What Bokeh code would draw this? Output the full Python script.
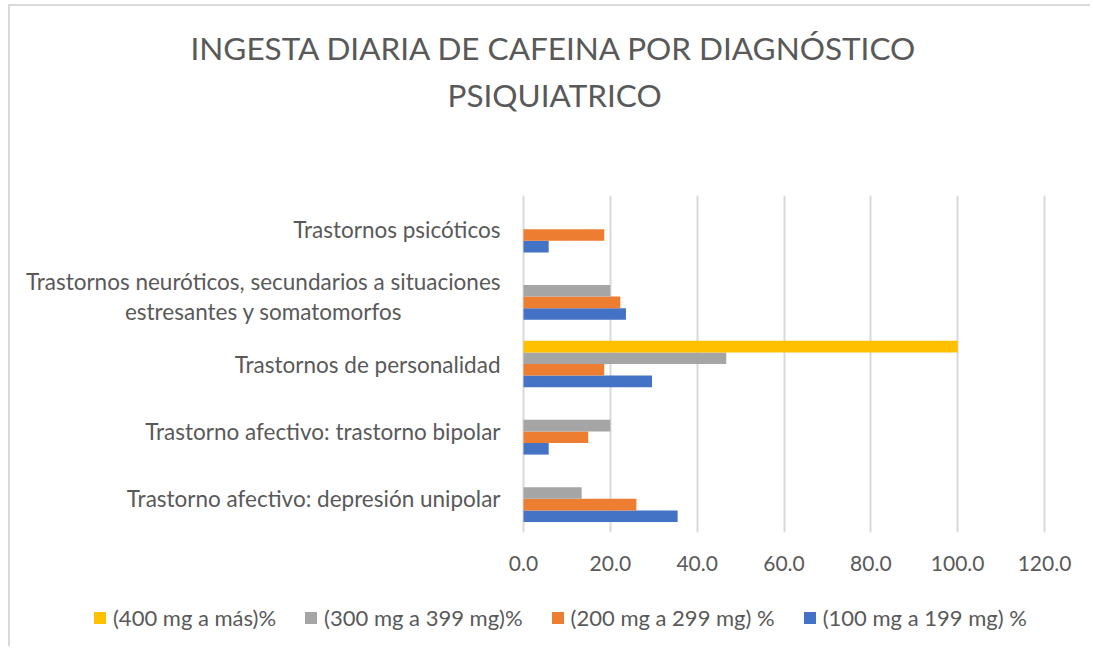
from bokeh.plotting import figure
from bokeh.layouts import column
from bokeh.models import (FactorRange, Range1d, ColumnDataSource, Legend, LegendItem,
                          NumeralTickFormatter, FixedTicker, Title)
from bokeh.core.properties import value
from bokeh.transform import dodge
from bokeh.embed import file_html
from bokeh.resources import INLINE

NB = "\u00a0"
categories = [
    "Trastorno afectivo: depresión unipolar",
    "Trastorno afectivo: trastorno bipolar",
    "Trastornos de personalidad",
    "Trastornos neuróticos, secundarios a situaciones estresantes y somatomorfos",
    "Trastornos psicóticos",
]
category_labels = [
    "Trastorno afectivo: depresión unipolar",
    "Trastorno afectivo: trastorno bipolar",
    "Trastornos de personalidad",
    "Trastornos neuróticos, secundarios a situaciones\nestresantes y somatomorfos" + NB * 17,
    "Trastornos psicóticos",
]
s100 = [35.5, 5.8, 29.6, 23.6, 5.8]
s200 = [26.0, 14.9, 18.6, 22.3, 18.6]
s300 = [13.4, 20.0, 46.7, 20.0, 0.0]
s400 = [0.0, 0.0, 100.0, 0.0, 0.0]
series_names = ["(100 mg a 199 mg) %", "(200 mg a 299 mg) %", "(300 mg a 399 mg)%", "(400 mg a más)%"]
colors = ["#4472C4", "#ED7D31", "#A5A5A5", "#FFC000"]
x_ticks = [0, 20, 40, 60, 80, 100, 120]
title_lines = ["INGESTA DIARIA DE CAFEINA POR DIAGNÓSTICO", "PSIQUIATRICO"]

src = ColumnDataSource(dict(cat=categories, lab=category_labels,
                            s100=s100, s200=s200, s300=s300, s400=s400))

TXT = "#595959"
FONT = "Lato"

# geometry: plot area 521 px wide for 0..120, starting 513 px from the left edge
W, LEFT, PW, FH = 1080, 513, 521, 337
upp = 120 / PW                      # data units per pixel
x_start = -LEFT * upp
x_end = 120 + (W - LEFT - PW) * upp

p = figure(width=W, height=590, frame_width=W, frame_height=FH,
           y_range=FactorRange(factors=categories, range_padding=0),
           x_range=Range1d(x_start, x_end), output_backend="svg", toolbar_location=None,
           min_border_left=0, min_border_right=0, min_border_top=189, min_border_bottom=64,
           title=None, y_axis_location=None)

offsets = [-0.258, -0.086, 0.086, 0.258]
cols = ["s100", "s200", "s300", "s400"]
for c, off, col in zip(cols, offsets, colors):
    p.hbar(y=dodge("cat", off, range=p.y_range), left=0, right=c, height=0.172,
           source=src, fill_color=col, line_color=None)

# category labels, right-aligned 23 px left of the value axis
p.text(x=-23 * upp, y="cat", text="lab", source=src, text_align="right",
       text_baseline="middle", text_font=value(FONT), text_font_size="22.5px",
       text_color=TXT, text_line_height=1.12)

# title: a blank spacer nearest the frame, then line 2, then line 1
spacer = Title(text=" ", text_font_size="10px", standoff=65)
t2 = Title(text=title_lines[1], align="left", offset=437, standoff=8,
           text_font=FONT, text_font_size="31.5px", text_font_style="normal", text_color=TXT)
t1 = Title(text=title_lines[0], align="left", offset=180, standoff=6,
           text_font=FONT, text_font_size="31.5px", text_font_style="normal", text_color=TXT)
p.add_layout(spacer, "above")
p.add_layout(t2, "above")
p.add_layout(t1, "above")

p.xaxis.ticker = FixedTicker(ticks=x_ticks)
p.xaxis.formatter = NumeralTickFormatter(format="0.0")
p.xaxis.axis_line_color = None
p.xaxis.major_tick_line_color = None
p.xaxis.minor_tick_line_color = None
p.xaxis.major_label_text_font = FONT
p.xaxis.major_label_text_font_size = "21px"
p.xaxis.major_label_text_color = TXT
p.xaxis.major_label_standoff = 17

p.xgrid.ticker = FixedTicker(ticks=x_ticks)
p.xgrid.grid_line_color = "#D9D9D9"
p.xgrid.grid_line_width = 2
p.ygrid.grid_line_color = None
p.outline_line_color = None

# legend strip below the chart
pl = figure(width=W, height=50, frame_width=W, x_range=Range1d(0, 1), y_range=Range1d(0, 1),
            output_backend="svg", toolbar_location=None, title=None,
            x_axis_location=None, y_axis_location=None,
            min_border_left=0, min_border_right=0, min_border_top=0, min_border_bottom=0)
pl.grid.grid_line_color = None
pl.outline_line_color = None
stub = ColumnDataSource(dict(y=[0.5], r=[0]))
leg_r = [pl.hbar(y="y", right="r", left=0, height=0.1, source=stub, fill_color=col, line_color=None)
         for col in colors]
items = [LegendItem(label=series_names[i], renderers=[leg_r[i]]) for i in [3, 2, 1, 0]]
legend = Legend(items=items, orientation="horizontal", location=(82, 15),
                label_text_font=FONT, label_text_font_size="22px", label_text_color=TXT,
                glyph_width=15, glyph_height=15, spacing=27, label_standoff=6,
                border_line_color=None, background_fill_alpha=0, margin=0, padding=0)
pl.add_layout(legend, "center")

layout = column(p, pl, spacing=0,
                styles={"border-left": "2px solid #D9D9D9", "border-top": "2px solid #D9D9D9",
                        "margin-left": "8px", "margin-top": "4px"})

open("out.html", "w").write(file_html(layout, INLINE))
